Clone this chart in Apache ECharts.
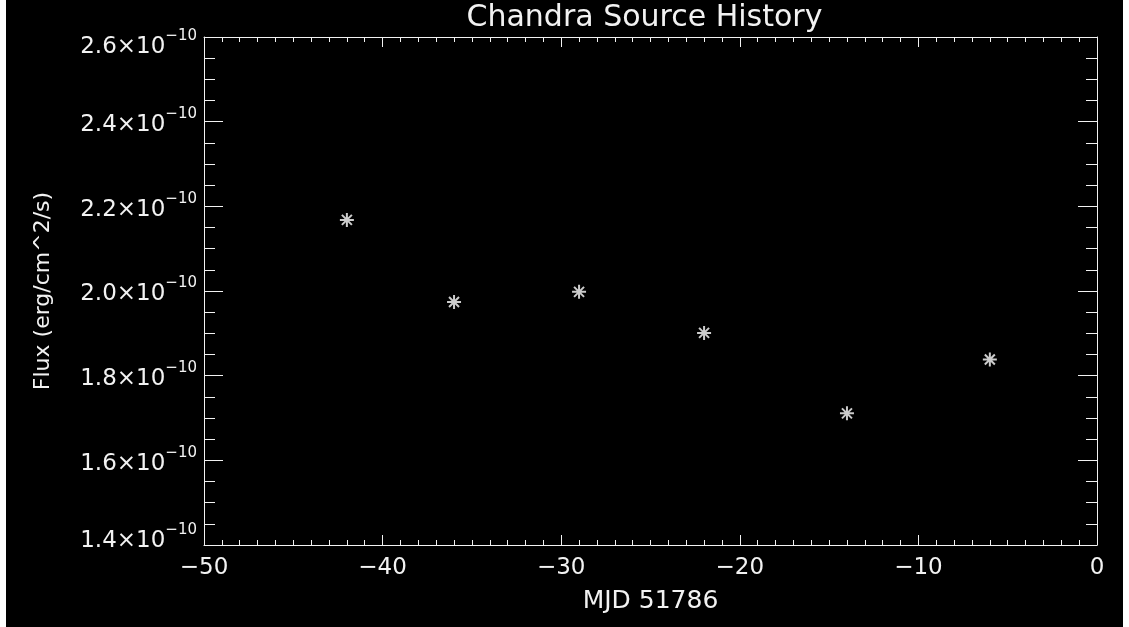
<!DOCTYPE html>
<html>
<head>
<meta charset="utf-8">
<script src="https://cdn.jsdelivr.net/npm/echarts@6/dist/echarts.min.js"></script>
<style>
  html, body { margin: 0; padding: 0; background: #ffffff; }
  #chart { position: absolute; left: 6px; top: 0; width: 1117px; height: 627px; }
</style>
</head>
<body>
<div id="chart"></div>
<script>
// ---- data ----
const titleText = 'Chandra Source History';
const xName = 'MJD 51786';
const yName = 'Flux (erg/cm^2/s)';
const mjdOffset = [-42, -36, -29, -22, -14, -6];
// flux in units of 1e-10 erg/cm^2/s
const flux = [2.168, 1.974, 1.998, 1.901, 1.711, 1.838];
const fluxExponent = '−10';
const xTicks = [-50, -40, -30, -20, -10, 0];
const yTicks = [1.4, 1.6, 1.8, 2.0, 2.2, 2.4, 2.6];

const points = mjdOffset.map((x, i) => [x, flux[i]]);

const FG = '#f2f2f2';
const FONT = '"DejaVu Sans", "Liberation Sans", sans-serif';
const line = { color: FG, width: 1 };

const chart = echarts.init(document.getElementById('chart'), null, { renderer: 'canvas' });

const yMin = yTicks[0], yMax = yTicks[yTicks.length - 1];
const xMin = xTicks[0], xMax = xTicks[xTicks.length - 1];

function yLabel(v) {
  const s = '{m|' + v.toFixed(1) + '×10}{s|' + fluxExponent + '}';
  if (Math.abs(v - yMax) < 1e-6) return '{g| }\n' + s;
  if (Math.abs(v - yMin) < 1e-6) return s + '\n{g| }';
  return s;
}
const mBase = { fontSize: 23, lineHeight: 30, verticalAlign: 'bottom', color: FG, fontFamily: FONT };
const sBase = { fontSize: 15, lineHeight: 15, verticalAlign: 'top', color: FG, fontFamily: FONT };
const gBase = { fontSize: 10, lineHeight: 14, color: 'rgba(0,0,0,0)', fontFamily: FONT };

const xAxisBase = {
  type: 'value', min: xMin, max: xMax, interval: 10,
  axisLine: { show: true, onZero: false, lineStyle: line },
  axisTick: { show: true, inside: true, length: 10, lineStyle: line },
  minorTick: { show: true, splitNumber: 10, length: 5, lineStyle: line },
  splitLine: { show: false }, minorSplitLine: { show: false }
};
const yAxisBase = {
  type: 'value', min: yMin, max: yMax, interval: 0.2,
  axisLine: { show: true, onZero: false, lineStyle: line },
  axisTick: { show: true, inside: true, length: 19, lineStyle: line },
  minorTick: { show: true, splitNumber: 4, length: 11, lineStyle: line },
  splitLine: { show: false }, minorSplitLine: { show: false }
};

chart.setOption({
  backgroundColor: '#000000',
  animation: false,
  graphic: [{
    type: 'text', left: 644.5 - 184, top: 3,
    style: { text: titleText, fill: FG, font: '30px ' + FONT }
  }],
  grid: { left: 198, right: 26, top: 37, bottom: 82, containLabel: false },
  xAxis: [
    Object.assign({}, xAxisBase, {
      position: 'bottom',
      name: xName, nameLocation: 'middle', nameGap: 44,
      nameTextStyle: { color: FG, fontSize: 25, fontFamily: FONT },
      axisLabel: {
        show: true, color: FG, fontSize: 23, fontFamily: FONT, margin: 12,
        showMinLabel: true, showMaxLabel: true, hideOverlap: false,
        formatter: v => (v < 0 ? '−' + Math.abs(v) : String(v))
      }
    }),
    Object.assign({}, xAxisBase, { position: 'top', axisLabel: { show: false } })
  ],
  yAxis: [
    Object.assign({}, yAxisBase, {
      position: 'left',
      name: yName, nameLocation: 'middle', nameGap: 150, nameRotate: 90,
      nameTextStyle: { color: FG, fontSize: 22, fontFamily: FONT },
      axisLabel: {
        show: true, margin: 7, showMinLabel: true, showMaxLabel: true, hideOverlap: false,
        formatter: yLabel,
        rich: { m: mBase, s: sBase, g: gBase }
      }
    }),
    Object.assign({}, yAxisBase, { position: 'right', axisLabel: { show: false } })
  ],
  series: [{
    type: 'scatter', xAxisIndex: 0, yAxisIndex: 0,
    data: points,
    symbol: 'path://M7,0L7,14M0,7L14,7M2,2L12,12M2,12L12,2',
    symbolSize: 14,
    itemStyle: { color: '#ffffff', borderColor: '#ffffff', borderWidth: 2 },
    emphasis: { disabled: true }
  }]
});
</script>
</body>
</html>
